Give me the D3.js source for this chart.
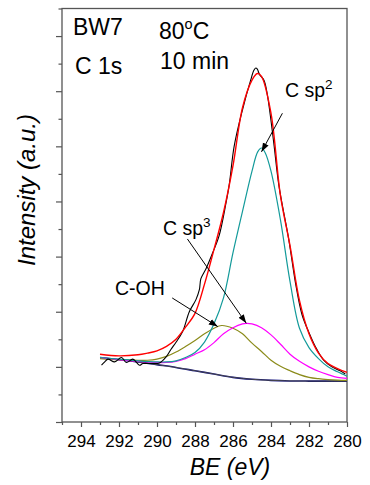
<!DOCTYPE html>
<html><head><meta charset="utf-8">
<script src="https://cdn.jsdelivr.net/npm/d3@7/dist/d3.min.js"></script>
<style>html,body{margin:0;padding:0;background:#fff;}svg{display:block;font-family:"Liberation Sans",Arial,sans-serif;}</style>
</head><body><svg id="c" width="370" height="485"></svg>
<script>
// ---- data (binding energy in eV, intensity in arbitrary units) ----
const xTicksMajor = [294, 292, 290, 288, 286, 284, 282, 280];
const rawData = [[292.92,1.03],[292.75,1.09],[292.58,1.14],[292.23,1.09],[291.87,1.17],[291.61,1.08],[291.27,1.14],[290.92,1.03],[290.74,1.06],[290.22,1.06],[289.87,1.07],[289.52,1.18],[289.26,1.32],[288.99,1.45],[288.65,1.64],[288.3,2.0],[287.95,2.22],[287.77,2.40],[287.69,2.6],[287.42,2.78],[287.08,3.06],[286.73,3.38],[286.38,3.95],[286.2,4.3],[285.94,5.0],[285.51,5.65],[285.07,6.2],[284.9,6.38],[284.8,6.42],[284.72,6.40],[284.6,6.3],[284.37,6.2],[284.2,5.95],[283.85,5.05],[283.59,4.3],[283.06,3.3],[282.71,2.52],[282.37,1.95],[282.0,1.62],[281.67,1.37],[281.23,1.12],[280.8,1.00],[280.36,0.93],[280.09,0.87]];
const envelope = [[293,1.23],[292,1.20],[291,1.22],[290.5,1.25],[290,1.29],[289.5,1.37],[289,1.50],[288.5,1.72],[288,1.97],[287.5,2.5],[287,3.13],[286.5,3.8],[286,4.65],[285.5,5.7],[285,6.2],[284.72,6.32],[284.5,6.27],[284,5.6],[283.5,4.1],[283,3.2],[282.5,2.2],[282,1.6],[281.5,1.25],[281,1.06],[280.5,0.97],[280,0.90]];
const sp2 = [[293,1.17],[292,1.14],[291,1.11],[290,1.09],[289.5,1.09],[289,1.11],[288.5,1.17],[288,1.26],[287.5,1.45],[287,1.78],[286.5,2.25],[286,3.07],[285.5,3.82],[285,4.55],[284.7,4.9],[284.5,4.97],[284.3,4.88],[284,4.55],[283.5,3.66],[283,2.55],[282.5,1.7],[282,1.35],[281.5,1.15],[281,1.0],[280.5,0.91],[280,0.83]];
const sp3 = [[293,1.17],[292,1.13],[291,1.10],[290,1.08],[289.5,1.08],[289,1.10],[288.5,1.15],[288,1.23],[287.5,1.31],[287,1.44],[286.5,1.60],[286,1.71],[285.5,1.78],[285.3,1.79],[285,1.78],[284.5,1.71],[284,1.58],[283.5,1.41],[283,1.23],[282.5,1.10],[282,1.00],[281.5,0.92],[281,0.86],[280.5,0.81],[280,0.79]];
const cOH = [[293,1.15],[292,1.13],[291,1.12],[290.5,1.12],[290,1.14],[289.5,1.19],[289,1.27],[288.5,1.37],[288,1.48],[287.5,1.60],[287,1.70],[286.6,1.75],[286,1.70],[285.5,1.60],[285,1.43],[284.5,1.28],[284,1.12],[283.5,1.01],[283,0.93],[282.5,0.86],[282,0.81],[281.5,0.785],[281,0.77],[280.5,0.76],[280,0.755]];
const background = [[293,1.17],[292,1.13],[291,1.09],[290,1.04],[289,0.99],[288,0.93],[287,0.87],[286,0.81],[285,0.775],[284,0.755],[283,0.745],[282,0.742],[281,0.741],[280,0.74]];
const peakLabels = [
  {text:"C sp", sup:"2", tx:285, ty:97, from:[283.4,5.6], to:[284.5,4.9]},
  {text:"C sp", sup:"3", tx:163, ty:235, from:[288.4,3.32], to:[285.3,1.79]},
  {text:"C-OH", sup:"", tx:115, ty:295, from:[289.2,2.25], to:[286.8,1.73]}
];

const svg = d3.select("#c");
const M = {l:62, r:347, t:8.5, b:422};
const x = d3.scaleLinear().domain([295, 280]).range([M.l, M.r]);
const y = d3.scaleLinear().domain([0, 7.5]).range([M.b, M.t]);

// frame
const frameCol = "#555";
svg.append("rect").attr("x",M.l).attr("y",M.t).attr("width",M.r-M.l).attr("height",M.b-M.t)
  .attr("fill","none").attr("stroke",frameCol).attr("stroke-width",1.3);

// axes
const xAxisMajor = d3.axisBottom(x).tickValues(xTicksMajor).tickSize(5).tickFormat(d3.format("d"));
const gx = svg.append("g").attr("transform",`translate(0,${M.b})`).call(xAxisMajor);
gx.select(".domain").remove();
gx.selectAll("line").attr("stroke",frameCol).attr("stroke-width",1.2);
gx.selectAll("text").attr("font-size","17px").attr("fill","#000").attr("dy",null).attr("y",24.8)
  .attr("font-family",'"Liberation Sans",Arial,sans-serif');
const gxm = svg.append("g").attr("transform",`translate(0,${M.b})`)
  .call(d3.axisBottom(x).tickValues(d3.range(295,279,-1).filter(v=>!xTicksMajor.includes(v))).tickSize(3).tickFormat(""));
gxm.select(".domain").remove();
gxm.selectAll("line").attr("stroke",frameCol).attr("stroke-width",1.2);

const gy = svg.append("g").attr("transform",`translate(${M.l},0)`)
  .call(d3.axisLeft(y).tickValues(d3.range(0,8,1)).tickSize(6).tickFormat(""));
gy.select(".domain").remove();
gy.selectAll("line").attr("stroke",frameCol).attr("stroke-width",1.2);
const gym = svg.append("g").attr("transform",`translate(${M.l},0)`)
  .call(d3.axisLeft(y).tickValues(d3.range(0.5,7.6,1)).tickSize(3.5).tickFormat(""));
gym.select(".domain").remove();
gym.selectAll("line").attr("stroke",frameCol).attr("stroke-width",1.2);

// curves
const line = d3.line().x(d=>x(d[0])).y(d=>y(d[1])).curve(d3.curveCatmullRom.alpha(0.5));
const rawLine = d3.line().x(d=>x(d[0])).y(d=>y(d[1])).curve(d3.curveCatmullRom.alpha(0.5));
const plot = svg.append("g");
plot.append("path").datum(background).attr("d",line).attr("fill","none").attr("stroke","#000080").attr("stroke-width",1.6);
plot.append("path").datum(background).attr("d",line).attr("fill","none").attr("stroke","#808020").attr("stroke-width",0.8).attr("opacity",0.7);
plot.append("path").datum(cOH).attr("d",line).attr("fill","none").attr("stroke","#8b8b1a").attr("stroke-width",1.2);
plot.append("path").datum(sp3).attr("d",line).attr("fill","none").attr("stroke","#ff00ff").attr("stroke-width",1.2);
plot.append("path").datum(sp2).attr("d",line).attr("fill","none").attr("stroke","#139a9a").attr("stroke-width",1.2);
plot.append("path").datum(rawData).attr("d",rawLine).attr("fill","none").attr("stroke","#000").attr("stroke-width",1.1);
plot.append("path").datum(envelope).attr("d",line).attr("fill","none").attr("stroke","#ff0000").attr("stroke-width",1.4);

// arrows
const defs = svg.append("defs");
defs.append("marker").attr("id","ah").attr("viewBox","0 0 10 10").attr("refX",10).attr("refY",5)
  .attr("markerWidth",9).attr("markerHeight",9).attr("markerUnits","userSpaceOnUse").attr("orient","auto")
  .append("path").attr("d","M0,1.5 L10,5 L0,8.5 Z").attr("fill","#000");
peakLabels.forEach(p=>{
  svg.append("line").attr("x1",x(p.from[0])).attr("y1",y(p.from[1])).attr("x2",x(p.to[0])).attr("y2",y(p.to[1]))
    .attr("stroke","#000").attr("stroke-width",1).attr("marker-end","url(#ah)");
  const t = svg.append("text").attr("x",p.tx).attr("y",p.ty).attr("font-size","19.5px").text(p.text);
  if(p.sup) t.append("tspan").attr("dy",-8).attr("font-size","13.5px").text(p.sup);
});

// annotation texts
const ann = svg.append("g").attr("font-size","23px").attr("fill","#000");
ann.append("text").attr("x",73).attr("y",35).text("BW7");
ann.append("text").attr("x",75).attr("y",74).text("C 1s");
const t80 = ann.append("text").attr("x",159).attr("y",39).text("80");
t80.append("tspan").attr("dy",-10).attr("font-size","14.5px").text("o");
t80.append("tspan").attr("dy",10).text("C");
ann.append("text").attr("x",160).attr("y",69).text("10 min");

// axis titles
svg.append("text").attr("transform","translate(35,190) rotate(-90)").attr("text-anchor","middle")
  .attr("font-size","24px").attr("font-style","italic").text("Intensity (a.u.)");
svg.append("text").attr("x",230).attr("y",475).attr("text-anchor","middle")
  .attr("font-size","23px").attr("font-style","italic").text("BE (eV)");
</script></body></html>
